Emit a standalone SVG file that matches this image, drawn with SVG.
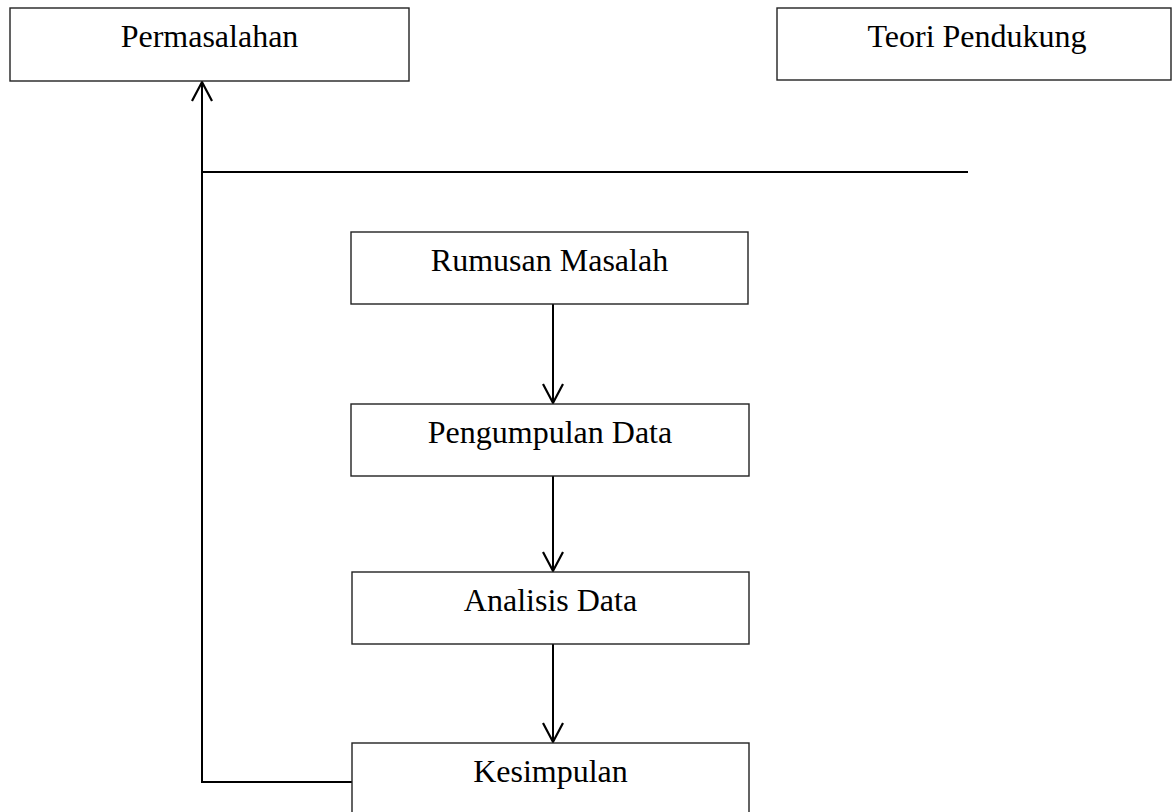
<svg xmlns="http://www.w3.org/2000/svg" width="1173" height="812" viewBox="0 0 1173 812">
  <style>
    .box { fill: #ffffff; stroke: #222222; stroke-width: 1.4; }
    .lbl { font-family: "Liberation Serif", "Times New Roman", serif; font-size: 32px; fill: #000000; text-anchor: middle; }
    .conn { fill: none; stroke: #000000; stroke-width: 2; }
  </style>
  <defs>
    <marker id="arrow" markerUnits="userSpaceOnUse" markerWidth="26" markerHeight="26" viewBox="-22 -13 26 26" refX="0" refY="0" orient="auto" overflow="visible">
      <path d="M-19,-10 L0,0 L-19,10" fill="none" stroke="#000000" stroke-width="2.2"/>
    </marker>
  </defs>
  <rect width="1173" height="812" fill="#ffffff"/>
  <g id="connectors">
    <path class="conn" d="M202,172 H968"/>
    <path class="conn" d="M352,782 H202 V82" marker-end="url(#arrow)"/>
    <path class="conn" d="M553,304 V403" marker-end="url(#arrow)"/>
    <path class="conn" d="M553,476 V571" marker-end="url(#arrow)"/>
    <path class="conn" d="M553,644 V742" marker-end="url(#arrow)"/>
  </g>
  <g id="permasalahan">
    <rect class="box" x="10" y="8" width="399" height="73"/>
    <text class="lbl" x="209.5" y="47">Permasalahan</text>
  </g>
  <g id="teori-pendukung">
    <rect class="box" x="777" y="8" width="394" height="72"/>
    <text class="lbl" x="977" y="47">Teori Pendukung</text>
  </g>
  <g id="rumusan-masalah">
    <rect class="box" x="351" y="232" width="397" height="72"/>
    <text class="lbl" x="549.5" y="271">Rumusan Masalah</text>
  </g>
  <g id="pengumpulan-data">
    <rect class="box" x="351" y="404" width="398" height="72"/>
    <text class="lbl" x="550" y="443">Pengumpulan Data</text>
  </g>
  <g id="analisis-data">
    <rect class="box" x="352" y="572" width="397" height="72"/>
    <text class="lbl" x="550.5" y="611">Analisis Data</text>
  </g>
  <g id="kesimpulan">
    <rect class="box" x="352" y="743" width="397" height="80"/>
    <text class="lbl" x="550.5" y="782">Kesimpulan</text>
  </g>
</svg>
